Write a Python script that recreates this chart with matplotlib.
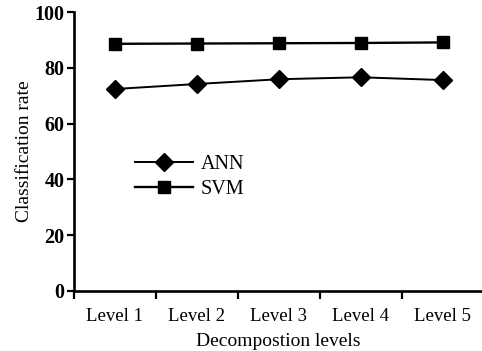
import matplotlib
matplotlib.use("Agg")
import matplotlib.pyplot as plt

categories = ["Level 1", "Level 2", "Level 3", "Level 4", "Level 5"]
ann = [72.4, 74.2, 75.9, 76.6, 75.6]
svm = [88.6, 88.7, 88.8, 88.9, 89.1]
yticks = [0, 20, 40, 60, 80, 100]

plt.rcParams['font.family'] = ['Liberation Serif', 'DejaVu Serif']

fig = plt.figure(figsize=(4.82, 3.51), dpi=100)
ax = fig.add_axes([74/482, 1-291/351, (482-74)/482, (291-12)/351])

xs = [i + 0.5 for i in range(len(categories))]
ax.plot(xs, ann, color='black', lw=1.4, marker='D', markersize=9, label='ANN')
ax.plot(xs, svm, color='black', lw=1.7, marker='s', markersize=8, label='SVM')

ax.set_xlim(0, 408/82)
ax.set_ylim(0, 100)
ax.set_yticks(yticks)
ax.set_yticklabels([str(v) for v in yticks], fontsize=14.5, fontweight='bold')
ax.set_xticks(range(len(categories)))
ax.set_xticklabels([])
ax.set_xticks(xs, minor=True)
ax.set_xticklabels(categories, minor=True, fontsize=13.5)
ax.tick_params(axis='x', which='minor', length=0, pad=12)
ax.tick_params(axis='x', which='major', length=6, width=1.6, direction='out')
ax.tick_params(axis='y', length=5, width=1.6, direction='out', pad=2)

for s in ['top', 'right']:
    ax.spines[s].set_visible(False)
for s in ['left', 'bottom']:
    ax.spines[s].set_linewidth(1.9)

ax.set_ylabel('Classification rate', fontsize=14, labelpad=1)
ax.set_xlabel('Decompostion levels', fontsize=14, labelpad=6)

ax.legend(loc='upper left', bbox_to_anchor=(0.13, 0.515), frameon=False,
          fontsize=14.5, handlelength=2.9, handletextpad=0.35, labelspacing=0.25,
          borderaxespad=0)

fig.savefig('out.png', dpi=100)
